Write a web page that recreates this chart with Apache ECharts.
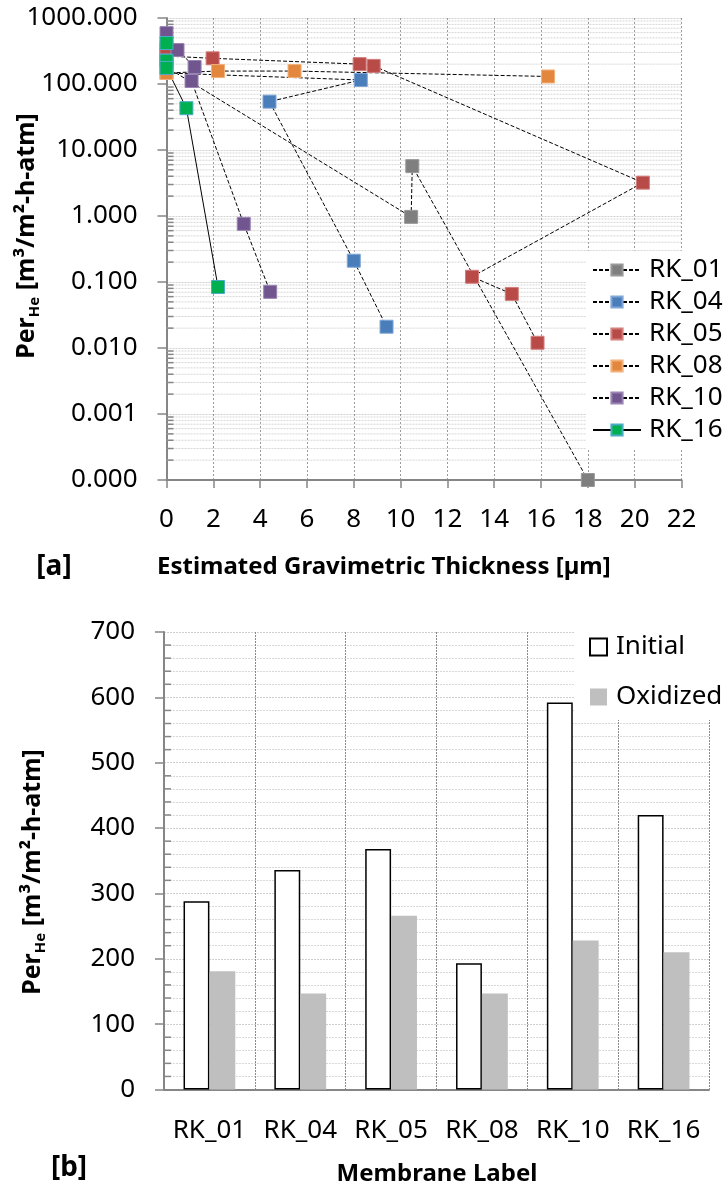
<!DOCTYPE html>
<html>
<head>
<meta charset="utf-8">
<script src="https://cdn.jsdelivr.net/npm/echarts@6/dist/echarts.min.js"></script>
<style>
  html, body { margin: 0; padding: 0; background: #fff; }
  #chart { width: 724px; height: 1189px; }
</style>
</head>
<body>
<div id="chart"></div>
<script>
// [a] permeance vs estimated thickness, points in measuring order [um, m3/m2-h-atm]
var rk01 = [[0, 287], [0, 180], [10.45, 0.97], [10.5, 5.7], [18, 0.0001]];
var rk04 = [[0, 336], [0, 147], [8.3, 115], [4.4, 54], [8.0, 0.21], [9.4, 0.021]];
var rk05 = [[0, 367], [0, 265], [1.97, 245], [8.25, 200], [8.85, 188], [20.35, 3.2], [13.05, 0.12], [14.75, 0.066], [15.85, 0.012]];
var rk08 = [[0, 193], [0, 147], [2.2, 157], [5.47, 157], [16.3, 130]];
var rk10 = [[0, 590], [0, 228], [0.47, 327], [1.2, 181], [1.07, 111], [3.3, 0.76], [4.43, 0.071]];
var rk16 = [[0, 418], [0, 225], [0, 175], [0.85, 43], [2.2, 0.084]];

// [b] initial / oxidized permeance per membrane
var membranes = ["RK_01", "RK_04", "RK_05", "RK_08", "RK_10", "RK_16"];
var initial = [288, 336, 368, 193, 592, 420];
var oxidized = [181, 147, 266, 147, 228, 210];

// minor grid positions: 2..9 in every decade for [a], every 20 for [b]
var decades = [0.0001, 0.001, 0.01, 0.1, 1, 10, 100];
var minorSteps = [2, 3, 4, 5, 6, 7, 8, 9];
var logMinor = [];
decades.forEach(function (d) {
  minorSteps.forEach(function (m) { logMinor.push([0, d * m]); });
});
var barMinor = [];
for (var t = 20; t < 700; t += 20) {
  if (t % 100 !== 0) barMinor.push([0, t]);
}

var FONT = "Noto Sans";
var AXIS = "#868686";

function rkSeries(name, data, fill, border, solid) {
  return {
    name: name,
    type: "line",
    xAxisIndex: 0,
    yAxisIndex: 0,
    data: data,
    symbol: "rect",
    symbolSize: 13,
    clip: false,
    z: 3,
    itemStyle: { color: fill, borderColor: border, borderWidth: 1 },
    lineStyle: { color: "#000", width: 1, type: solid ? "solid" : [4, 2] },
    emphasis: { disabled: true }
  };
}

// minor ticks (inward) + optional minor gridline, drawn through the axis scale
function minorSeries(xi, yi, data, withLine) {
  return {
    type: "custom",
    xAxisIndex: xi,
    yAxisIndex: yi,
    silent: true,
    z: 1,
    data: data,
    encode: { y: 1 },
    renderItem: function (params, api) {
      var cs = params.coordSys;
      var y = api.coord([api.value(0), api.value(1)])[1];
      var kids = [
        { type: "line", shape: { x1: cs.x, y1: y, x2: cs.x + 7, y2: y },
          style: { stroke: AXIS, lineWidth: 1.5 } }
      ];
      if (withLine) {
        kids.unshift({ type: "line", shape: { x1: cs.x, y1: y, x2: cs.x + cs.width, y2: y },
          style: { stroke: "#d6d6d6", lineWidth: 1, lineDash: [2, 1] } });
      }
      return { type: "group", children: kids };
    }
  };
}

var yTitle = {
  text: "{b|Per}{s|He}{b| [m³/m²-h-atm]}",
  align: "center", verticalAlign: "middle", fill: "#000",
  rich: {
    b: { fontSize: 25, fontWeight: "bold", fontFamily: FONT, lineHeight: 30, fill: "#000" },
    s: { fontSize: 15, fontWeight: "bold", fontFamily: FONT, lineHeight: 15, verticalAlign: "bottom", fill: "#000" }
  }
};

var chart = echarts.init(document.getElementById("chart"));

var option = {
  animation: false,
  textStyle: { fontFamily: FONT },
  grid: [
    { left: 166.5, top: 18, width: 515, height: 462 },
    { left: 164, top: 632, width: 545, height: 457.5 }
  ],
  xAxis: [
    {
      type: "value",
      gridIndex: 0,
      min: 0,
      max: 22,
      interval: 2,
      axisLine: { lineStyle: { color: AXIS, width: 2 } },
      axisTick: { length: 8, lineStyle: { color: AXIS, width: 1.5 } },
      axisLabel: { color: "#000", fontSize: 26, margin: 27, fontFamily: FONT },
      splitLine: { show: true, lineStyle: { color: "#9a9a9a", width: 1, type: [2, 2] } }
    },
    {
      type: "category",
      gridIndex: 1,
      data: membranes,
      axisLine: { lineStyle: { color: AXIS, width: 2 } },
      axisTick: { length: 8, lineStyle: { color: AXIS, width: 1.5 } },
      axisLabel: { color: "#000", fontSize: 26, margin: 28, interval: 0, hideOverlap: false, fontFamily: FONT },
      splitLine: { show: true, interval: 0, lineStyle: { color: "#8a8a8a", width: 1, type: [2, 1] } }
    }
  ],
  yAxis: [
    {
      type: "log",
      gridIndex: 0,
      logBase: 10,
      min: 0.0001,
      max: 1000,
      splitNumber: 7,
      axisLine: { show: true, lineStyle: { color: AXIS, width: 2 } },
      axisTick: { show: true, length: 9, lineStyle: { color: AXIS, width: 1.5 } },
      axisLabel: {
        color: "#000", fontSize: 26, margin: 29, fontFamily: FONT,
        formatter: function (v) { return v.toFixed(3); }
      },
      splitLine: { show: true, lineStyle: { color: "#d0d0d0", width: 1, type: [2, 1] } }
    },
    {
      type: "value",
      gridIndex: 1,
      min: 0,
      max: 700,
      interval: 100,
      axisLine: { show: true, lineStyle: { color: AXIS, width: 2 } },
      axisTick: { show: true, length: 9, lineStyle: { color: AXIS, width: 1.5 } },
      axisLabel: { color: "#000", fontSize: 26, margin: 29, fontFamily: FONT },
      splitLine: { show: true, lineStyle: { color: "#d0d0d0", width: 1, type: [2, 1] } },
      minorSplitLine: { show: true, lineStyle: { color: "#d8d8d8", width: 1, type: [2, 1] } }
    }
  ],
  legend: [
    {
      data: ["RK_01", "RK_04", "RK_05", "RK_08", "RK_10", "RK_16"],
      orient: "vertical",
      left: 586,
      top: 251,
      width: 138,
      padding: [6, 10, 6, 6],
      itemGap: 6,
      itemWidth: 48,
      itemHeight: 14,
      backgroundColor: "#fff",
      selectedMode: false,
      textStyle: { color: "#000", fontSize: 26, lineHeight: 26, fontFamily: FONT, padding: [0, 0, 0, 3] }
    },
    {
      data: ["Initial", "Oxidized"],
      orient: "vertical",
      left: 575,
      top: 628,
      padding: [6, 10, 10, 14],
      itemGap: 24,
      itemWidth: 17,
      itemHeight: 17,
      icon: "rect",
      backgroundColor: "#fff",
      selectedMode: false,
      textStyle: { color: "#000", fontSize: 26, lineHeight: 26, fontFamily: FONT, padding: [0, 0, 0, 4] }
    }
  ],
  graphic: [
    {
      type: "text", x: 54, y: 567,
      style: { text: "[a]", font: "bold 28px " + FONT, fill: "#000", align: "center", verticalAlign: "middle" }
    },
    {
      type: "text", x: 157, y: 567,
      style: { text: "Estimated Gravimetric Thickness [µm]", font: "bold 24px " + FONT, fill: "#000", align: "left", verticalAlign: "middle" }
    },
    {
      type: "text", x: 27, y: 236, rotation: Math.PI / 2,
      style: yTitle
    },
    {
      type: "text", x: 69, y: 1168,
      style: { text: "[b]", font: "bold 28px " + FONT, fill: "#000", align: "center", verticalAlign: "middle" }
    },
    {
      type: "text", x: 437, y: 1174,
      style: { text: "Membrane Label", font: "bold 24px " + FONT, fill: "#000", align: "center", verticalAlign: "middle" }
    },
    {
      type: "text", x: 33, y: 872, rotation: Math.PI / 2,
      style: yTitle
    }
  ],
  series: [
    minorSeries(0, 0, logMinor, true),
    minorSeries(1, 1, barMinor, false),
    rkSeries("RK_01", rk01, "#7F7F7F", "#999999", false),
    rkSeries("RK_04", rk04, "#4A7EBB", "#7FA6D6", false),
    rkSeries("RK_05", rk05, "#B84B48", "#D27F7D", false),
    rkSeries("RK_08", rk08, "#E2873D", "#F2B07A", false),
    rkSeries("RK_10", rk10, "#71558F", "#9A84B3", false),
    rkSeries("RK_16", rk16, "#00B050", "#4BACC6", true),
    {
      name: "Initial",
      type: "bar",
      xAxisIndex: 1,
      yAxisIndex: 1,
      data: initial,
      barGap: "0%",
      barCategoryGap: "43%",
      itemStyle: { color: "#fff", borderColor: "#000", borderWidth: 1.5 },
      emphasis: { disabled: true }
    },
    {
      name: "Oxidized",
      type: "bar",
      xAxisIndex: 1,
      yAxisIndex: 1,
      data: oxidized,
      itemStyle: { color: "#BFBFBF" },
      emphasis: { disabled: true }
    }
  ]
};

chart.setOption(option);
</script>
</body>
</html>
